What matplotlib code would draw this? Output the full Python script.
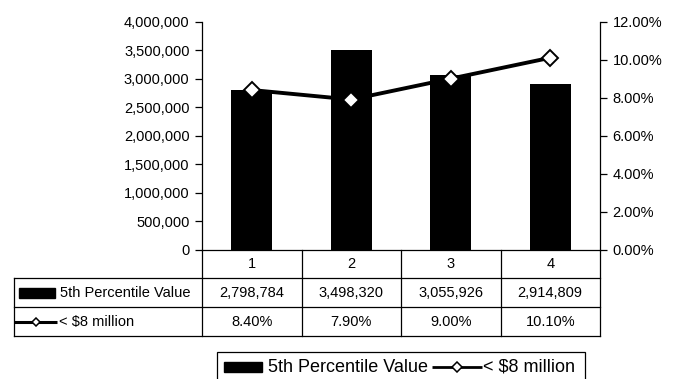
import matplotlib
matplotlib.use('Agg')
import matplotlib.pyplot as plt
from matplotlib.patches import Rectangle
from matplotlib.ticker import FuncFormatter, MultipleLocator

plt.rcParams['font.family'] = ['Liberation Sans', 'DejaVu Sans']

# Datos
categorias = ['1', '2', '3', '4']
valor_p5 = [2798784, 3498320, 3055926, 2914809]
pct_menor_8m = [8.40, 7.90, 9.00, 10.10]
serie_barras = '5th Percentile Value'
serie_linea = '< $8 million'

W, H = 673, 379
fig = plt.figure(figsize=(W / 100, H / 100), dpi=100)

# Área del gráfico (en píxeles de la figura)
x0, x1 = 202, 600
y_top, y_cero = 21.7, 249.5
ax = fig.add_axes([x0 / W, 1 - y_cero / H, (x1 - x0) / W, (y_cero - y_top) / H])
xs = list(range(len(categorias)))

ax.bar(xs, valor_p5, width=0.41, color='black', zorder=2)
ax.set_xlim(-0.5, len(categorias) - 0.5)
ax.set_ylim(0, 4000000)
ax.yaxis.set_major_locator(MultipleLocator(500000))
ax.yaxis.set_major_formatter(FuncFormatter(lambda v, p: f'{int(v):,}'))
ax.set_xticks([])
for s in ['top', 'right']:
    ax.spines[s].set_visible(False)
ax.spines['left'].set_linewidth(0.9)
ax.spines['bottom'].set_linewidth(0.9)
ax.tick_params(axis='y', direction='out', length=5, width=0.9, labelsize=10.5, pad=4)

ax2 = ax.twinx()
ax2.plot(xs, [p / 100 for p in pct_menor_8m], color='black', lw=2.8,
         marker='D', markersize=8.5, markerfacecolor='white',
         markeredgecolor='black', markeredgewidth=1.4, zorder=3)
ax2.set_ylim(0, 0.12)
ax2.yaxis.set_major_locator(MultipleLocator(0.02))
ax2.yaxis.set_major_formatter(FuncFormatter(lambda v, p: f'{v * 100:.2f}%'))
for s in ['top', 'left', 'bottom']:
    ax2.spines[s].set_visible(False)
ax2.spines['right'].set_linewidth(0.9)
ax2.tick_params(axis='y', direction='out', length=5, width=0.9, labelsize=10.5, pad=4)

# Tabla de datos bajo el gráfico
t_left, t_bottom = 14, 336
px_cat = (x1 - x0) / len(categorias)
xt0 = -0.5 - (x0 - t_left) / px_cat
axt = fig.add_axes([t_left / W, 1 - t_bottom / H, (x1 - t_left) / W, (t_bottom - y_cero) / H])
axt.set_xlim(xt0, len(categorias) - 0.5)
axt.set_ylim(0, 3)
axt.axis('off')

lw_t = 0.9
for yy in [0, 1, 2]:
    axt.plot([xt0, len(categorias) - 0.5], [yy, yy], color='black', lw=lw_t, clip_on=False)
axt.plot([xt0, xt0], [0, 2], color='black', lw=lw_t, clip_on=False)
for k in range(len(categorias) + 1):
    axt.plot([k - 0.5, k - 0.5], [0, 3], color='black', lw=lw_t, clip_on=False)

fs = 10.5
for i, c in enumerate(categorias):
    axt.text(i, 2.5, c, ha='center', va='center', fontsize=fs)
    axt.text(i, 1.5, f'{valor_p5[i]:,}', ha='center', va='center', fontsize=fs)
    axt.text(i, 0.5, f'{pct_menor_8m[i]:.2f}%', ha='center', va='center', fontsize=fs)

# Claves de serie en la columna de etiquetas
u = 1 / px_cat
axt.add_patch(Rectangle((xt0 + 5 * u, 1.5 - 0.17), 36 * u, 0.34, color='black', clip_on=False))
axt.text(xt0 + 46 * u, 1.5, serie_barras, ha='left', va='center', fontsize=fs)
axt.plot([xt0, xt0 + 43 * u], [0.5, 0.5], color='black', lw=2.2,
         solid_capstyle='butt', clip_on=False)
axt.plot([xt0 + 22 * u], [0.5], marker='D', markersize=4.5, markerfacecolor='white',
         markeredgecolor='black', markeredgewidth=1.1, clip_on=False)
axt.text(xt0 + 45 * u, 0.5, serie_linea, ha='left', va='center', fontsize=fs)

# Leyenda inferior, dibujada en píxeles de la figura
axl = fig.add_axes([0, 0, 1, 1])
axl.set_xlim(0, W)
axl.set_ylim(H, 0)
axl.axis('off')
axl.add_patch(Rectangle((217, 352), 368, 34, facecolor='white', edgecolor='black',
                        lw=0.9, clip_on=False))
y_ley = 367
axl.add_patch(Rectangle((224, y_ley - 5), 38, 10, color='black'))
axl.text(268, y_ley, serie_barras, ha='left', va='center', fontsize=13)
axl.plot([432, 482], [y_ley, y_ley], color='black', lw=2.0, solid_capstyle='butt')
axl.plot([457], [y_ley], marker='D', markersize=5.5, markerfacecolor='white',
         markeredgecolor='black', markeredgewidth=1.1)
axl.text(483, y_ley, serie_linea, ha='left', va='center', fontsize=13)

fig.savefig('out.png', dpi=100, facecolor='white')
